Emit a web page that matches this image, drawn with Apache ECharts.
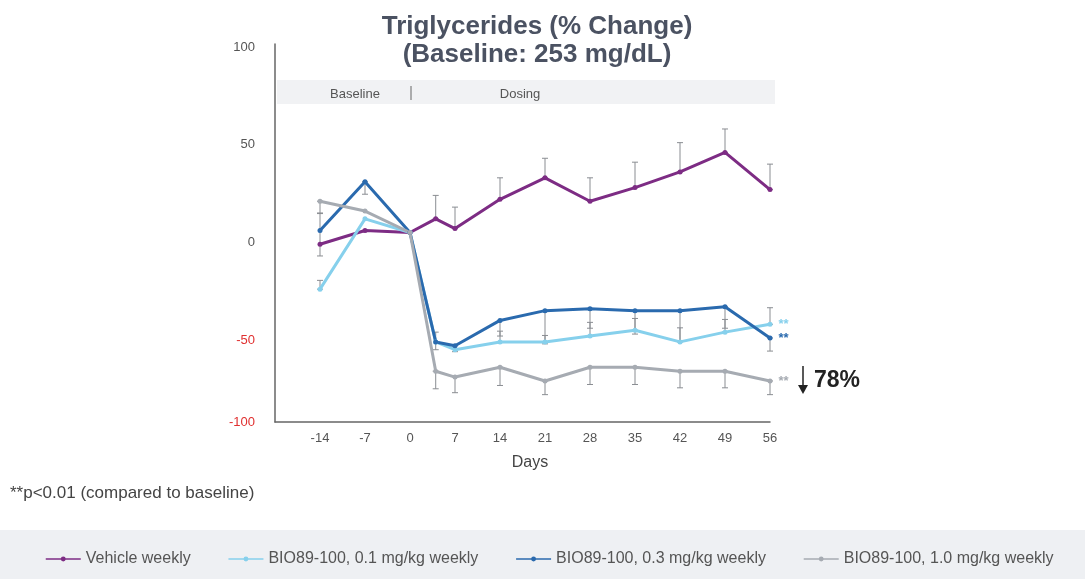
<!DOCTYPE html>
<html>
<head>
<meta charset="utf-8">
<script src="https://cdn.jsdelivr.net/npm/echarts@6/dist/echarts.min.js"></script>
<style>
  html, body { margin: 0; padding: 0; background: #fff; }
  #chart { width: 1085px; height: 579px; }
</style>
</head>
<body>
<div id="chart"></div>
<script>
// study days (day 4 has no tick label)
var days = [-14, -7, 0, 4, 7, 14, 21, 28, 35, 42, 49, 56]
var xTicks = [-14, -7, 0, 7, 14, 21, 28, 35, 42, 49, 56]
var yTicks = [100, 50, 0, -50, -100]

// % change from baseline
var vehicle = [-1, 6, 5, 12, 7, 22, 33, 21, 28, 36, 46, 27]
var dose01 = [-24, 12, 5, -51, -55, -51, -51, -48, -45, -51, -46, -42]
var dose03 = [6, 31, 5, -51, -53, -40, -35, -34, -35, -35, -33, -49]
var dose10 = [21, 16, 5, -66, -69, -64, -71, -64, -64, -66, -66, -71]

// error bar ends (the other end is the mean)
var vehicleErr = [[-7, 15], [6, 6], [5, 5], [12, 24], [7, 18], [22, 33], [33, 43], [21, 33], [28, 41], [36, 51], [46, 58], [27, 40]]
var dose01Err = [[-24, -19.5], [12, 12], [5, 5], [-51, -51], [-55, -55], [-51, -45.5], [-51, -47.7], [-48, -41], [-45, -39], [-51, -43.8], [-46, -39.5], [-42, -33.5]]
var dose03Err = [[6, 6], [24.6, 31], [5, 5], [-55, -46], [-56, -53], [-48, -40], [-52, -35], [-44, -34], [-47, -35], [-50.6, -35], [-44, -33], [-55.7, -49]]
var dose10Err = [[14.7, 21], [16, 16], [5, 5], [-75, -66], [-77, -69], [-73.3, -64], [-78, -71], [-72.8, -64], [-72.8, -64], [-74.5, -66], [-74.5, -66], [-78, -71]]

var names = ['Vehicle weekly', 'BIO89-100, 0.1 mg/kg weekly', 'BIO89-100, 0.3 mg/kg weekly', 'BIO89-100, 1.0 mg/kg weekly']
var colors = ['#7d2c84', '#86d0ec', '#2a6aae', '#a6abb2']
var font = 'Liberation Sans, Arial, sans-serif'

function pairs (vals) {
  return days.map(function (d, i) { return [d, vals[i]] })
}

function errBars (errs) {
  return days.map(function (d, i) { return [d, errs[i][0], errs[i][1]] })
}

function renderErr (params, api) {
  var lo = api.coord([api.value(0), api.value(1)])
  var hi = api.coord([api.value(0), api.value(2)])
  if (Math.abs(lo[1] - hi[1]) < 1) return
  var style = { stroke: '#8a8d92', lineWidth: 1 }
  return {
    type: 'group',
    children: [
      { type: 'line', shape: { x1: lo[0], y1: lo[1], x2: hi[0], y2: hi[1] }, style: style },
      { type: 'line', shape: { x1: lo[0] - 3, y1: lo[1], x2: lo[0] + 3, y2: lo[1] }, style: style },
      { type: 'line', shape: { x1: hi[0] - 3, y1: hi[1], x2: hi[0] + 3, y2: hi[1] }, style: style }
    ]
  }
}

function lineSeries (idx, vals, star) {
  var data = pairs(vals)
  if (star) {
    var last = data.length - 1
    data[last] = {
      value: data[last],
      label: { show: true, position: 'right', distance: 6, formatter: '**', color: colors[idx], fontSize: 13, fontWeight: 'bold' }
    }
  }
  return {
    name: names[idx],
    type: 'line',
    data: data,
    z: 3,
    symbol: 'circle',
    symbolSize: 5,
    color: colors[idx],
    lineStyle: { width: 3, color: colors[idx] },
    itemStyle: { color: colors[idx] }
  }
}

var chart = echarts.init(document.getElementById('chart'), null, { renderer: 'canvas' })

var option = {
  animation: false,
  textStyle: { fontFamily: font },
  title: {
    text: 'Triglycerides (% Change)\n(Baseline: 253 mg/dL)',
    left: 532,
    top: 8,
    textAlign: 'center',
    textStyle: { fontSize: 26, fontWeight: 'bold', color: '#4b5262', lineHeight: 28 }
  },
  color: colors,
  legend: {
    top: 546,
    left: 40,
    itemGap: 37,
    itemWidth: 35,
    itemHeight: 6,
    data: names,
    itemStyle: { borderWidth: 0 },
    lineStyle: { width: 1.5 },
    textStyle: { fontSize: 16, color: '#555' }
  },
  graphic: [
    { type: 'rect', z: -10, shape: { x: 0, y: 530, width: 1085, height: 49 }, style: { fill: '#eef0f3' } },
    { type: 'rect', z: -10, shape: { x: 277, y: 80, width: 498, height: 24 }, style: { fill: '#f1f2f4' } },
    { type: 'text', x: 355, y: 94, style: { text: 'Baseline', fontSize: 13, fill: '#555', align: 'center', verticalAlign: 'middle', fontFamily: font } },
    { type: 'line', shape: { x1: 411, y1: 86, x2: 411, y2: 100 }, style: { stroke: '#666', lineWidth: 1 } },
    { type: 'text', x: 520, y: 94, style: { text: 'Dosing', fontSize: 13, fill: '#555', align: 'center', verticalAlign: 'middle', fontFamily: font } },
    { type: 'text', x: 530, y: 463, style: { text: 'Days', fontSize: 16, fill: '#444', align: 'center', verticalAlign: 'middle', fontFamily: font } },
    { type: 'text', x: 10, y: 493, style: { text: '**p<0.01 (compared to baseline)', fontSize: 17, fill: '#444', verticalAlign: 'middle', fontFamily: font } },
    { type: 'line', shape: { x1: 803, y1: 366, x2: 803, y2: 388 }, style: { stroke: '#222', lineWidth: 1.5 } },
    { type: 'polygon', shape: { points: [[798, 385], [808, 385], [803, 394]] }, style: { fill: '#222' } },
    { type: 'text', x: 814, y: 381, style: { text: '78%', fontSize: 23, fontWeight: 'bold', fill: '#222', verticalAlign: 'middle', fontFamily: font } }
  ],
  grid: { left: 275, top: 44, width: 495, height: 378 },
  xAxis: {
    type: 'value',
    min: -21,
    max: 56,
    interval: 7,
    splitLine: { show: false },
    axisTick: { show: false },
    axisLine: { onZero: false, lineStyle: { color: '#666', width: 1.5 } },
    axisLabel: {
      margin: 10,
      fontSize: 13,
      color: '#555',
      formatter: function (v) { return xTicks.indexOf(v) >= 0 ? String(v) : '' }
    }
  },
  yAxis: {
    type: 'value',
    min: -92,
    max: 101.5,
    splitLine: { show: false },
    axisTick: { show: false },
    axisLine: { show: true, onZero: false, lineStyle: { color: '#666', width: 1.5 } },
    axisLabel: {
      margin: 20,
      fontSize: 13,
      // the bottom label sits on the axis floor in the original
      customValues: [100, 50, 0, -50, -92],
      formatter: function (v) { return v < -90 ? String(yTicks[4]) : String(v) },
      color: function (v) { return Number(v) < 0 || String(v).charAt(0) === '-' ? '#e03030' : '#555' }
    }
  },
  series: [
    { type: 'custom', renderItem: renderErr, data: errBars(vehicleErr), z: 1, silent: true },
    { type: 'custom', renderItem: renderErr, data: errBars(dose01Err), z: 1, silent: true },
    { type: 'custom', renderItem: renderErr, data: errBars(dose03Err), z: 1, silent: true },
    { type: 'custom', renderItem: renderErr, data: errBars(dose10Err), z: 1, silent: true },
    lineSeries(0, vehicle, false),
    lineSeries(1, dose01, true),
    lineSeries(2, dose03, true),
    lineSeries(3, dose10, true)
  ]
}

chart.setOption(option)
</script>
</body>
</html>
